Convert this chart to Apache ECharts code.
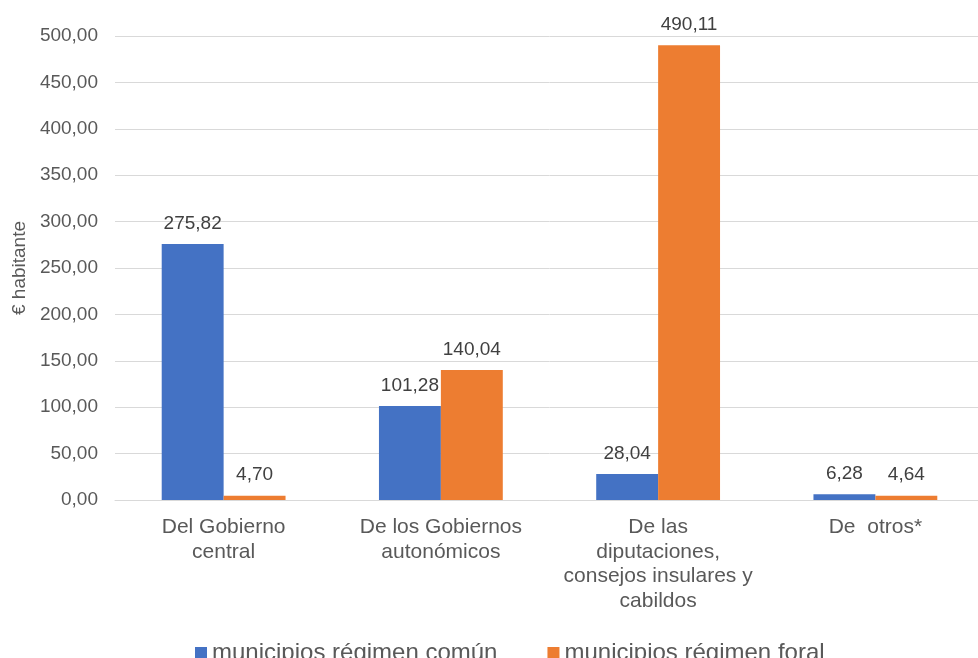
<!DOCTYPE html>
<html><head><meta charset="utf-8">
<script src="https://cdn.jsdelivr.net/npm/echarts@6/dist/echarts.min.js"></script>
<style>html,body{margin:0;padding:0;background:#fff;overflow:hidden}#c{width:986px;height:658px}</style>
</head><body><div id="c"></div>
<script>
const categories = ["Del Gobierno\ncentral", "De los Gobiernos\nautonómicos", "De las\ndiputaciones,\nconsejos insulares y\ncabildos", "De  otros*"];
const comun = [275.82, 101.28, 28.04, 6.28];
const foral = [4.70, 140.04, 490.11, 4.64];
const seriesNames = ["municipios régimen común", "municipios régimen foral"];
const fmt = v => v.toFixed(2).replace('.', ',');
const font = '"Liberation Sans", Arial, sans-serif';
const chart = echarts.init(document.getElementById('c'));
chart.setOption({
  animation: false,
  textStyle: {fontFamily: font},
  grid: {left: 115, top: 36, width: 869, height: 464, containLabel: false},
  legend: {
    top: 636, left: 195, padding: [5, 0, 5, 0], itemWidth: 12, itemHeight: 12, itemGap: 50,
    icon: 'rect',
    textStyle: {fontSize: 24, lineHeight: 24, color: '#595959', fontFamily: font},
    data: seriesNames
  },
  xAxis: {
    type: 'category', data: categories,
    axisLine: {lineStyle: {color: '#d9d9d9'}},
    axisTick: {show: false},
    axisLabel: {fontSize: 21, color: '#595959', lineHeight: 24.5, margin: 15, interval: 0, fontFamily: font}
  },
  yAxis: {
    type: 'value', min: 0, max: 500, interval: 50,
    name: '€ habitante', nameLocation: 'middle', nameGap: 86, nameRotate: 90,
    nameTextStyle: {fontSize: 19, color: '#595959', fontFamily: font},
    axisLabel: {fontSize: 19, color: '#595959', margin: 17, formatter: fmt, fontFamily: font},
    splitLine: {lineStyle: {color: '#d9d9d9', width: 1}},
    axisLine: {show: false}, axisTick: {show: false}
  },
  series: [
    {name: seriesNames[0], type: 'bar', data: comun, barGap: '0%', barCategoryGap: '43%',
     itemStyle: {color: '#4472C4'},
     label: {show: true, position: 'top', distance: 11, fontSize: 19, color: '#404040', formatter: p => fmt(p.value), fontFamily: font}},
    {name: seriesNames[1], type: 'bar', data: foral, barGap: '0%', barCategoryGap: '43%',
     itemStyle: {color: '#ED7D31'},
     label: {show: true, position: 'top', distance: 11, fontSize: 19, color: '#404040', formatter: p => fmt(p.value), fontFamily: font}}
  ]
});
</script></body></html>
